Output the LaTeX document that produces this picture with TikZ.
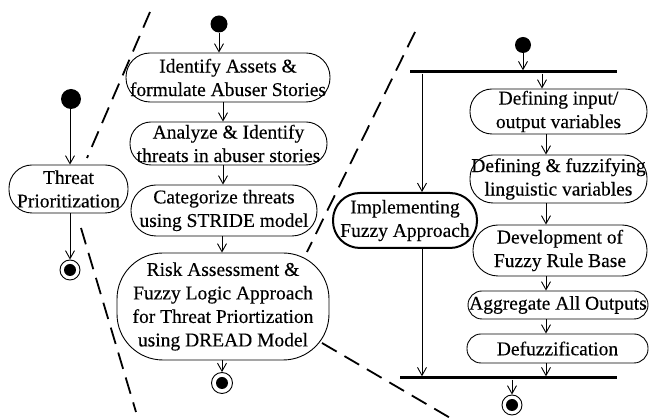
\documentclass[tikz,border=0pt]{standalone}
\usepackage{fontspec}
\setmainfont{Liberation Serif}
\newfontfamily\diaserif{Liberation Serif}[FakeBold=0.3]
\usetikzlibrary{arrows.meta}
\newcommand\diafont{\diaserif\fontsize{19.5}{23.5}\selectfont}
\begin{document}
\begin{tikzpicture}[x=1pt,y=-1pt,
  act/.style={draw, line width=0.9pt, align=center, inner sep=0pt, font=\diafont},
  startdot/.style={circle, fill=black, inner sep=0pt},
  enddot/.style={circle, draw, line width=0.9pt, fill=white, inner sep=0pt, minimum size=20pt,
     path picture={\fill[black] (path picture bounding box.center) circle (6pt);}},
  bar/.style={fill=black, inner sep=0pt, minimum height=3pt},
  flow/.style={line width=0.9pt, -{Straight Barb[length=8pt,width=9pt]}},
  zoomline/.style={line width=1.8pt, dash pattern=on 17pt off 9pt},
]
\useasboundingbox (0,0) rectangle (649,419);

% ---------- left column ----------
\node[startdot, minimum size=20pt] (dotL) at (71,99) {};
\node[act, minimum width=119pt, minimum height=48pt, rounded corners=23pt] (threat) at (68.5,189) {Threat\\Prioritization};
\node[enddot] (endL) at (70,270) {};
\coordinate (xL) at (70,0);
\draw[flow] (dotL.south -| xL) -- (threat.north -| xL);
\draw[flow] (threat.south -| xL) -- (endL.north -| xL);

% ---------- middle column ----------
\node[startdot, minimum size=17pt] (dotM) at (219,24) {};
\node[act, minimum width=204pt, minimum height=49pt, rounded corners=24pt] (m1) at (228,77.5) {Identify Assets \&\\formulate Abuser Stories};
\node[act, minimum width=197pt, minimum height=43pt, rounded corners=21pt] (m2) at (228.5,143.5) {Analyze \& Identify\\threats in abuser stories};
\node[act, minimum width=186pt, minimum height=51pt, rounded corners=25pt] (m3) at (224,210.5) {Categorize threats\\using STRIDE model};
\node[act, minimum width=212pt, minimum height=107pt, rounded corners=46pt] (m4) at (223,306.5) {Risk Assessment \&\\Fuzzy Logic Approach\\for Threat Priortization\\using DREAD Model};
\node[enddot, minimum size=21pt] (endM) at (222,383) {};
\coordinate (xM0) at (219,0);
\coordinate (xM1) at (223,0);
\coordinate (xM2) at (222,0);
\draw[flow] (dotM.south -| xM0) -- (m1.north -| xM0);
\draw[flow] (m1.south -| xM1) -- (m2.north -| xM1);
\draw[flow] (m2.south -| xM1) -- (m3.north -| xM1);
\draw[flow] (m3.south -| xM2) -- (m4.north -| xM2);
\draw[flow] (m4.south -| xM2) -- (endM.north -| xM2);

% ---------- right column ----------
\node[startdot, minimum size=16pt] (dotR) at (523,45) {};
\node[bar, minimum width=207pt] (barT) at (513.5,72) {};
\node[bar, minimum width=217pt] (barB) at (508.5,378) {};
\node[act, line width=2pt, minimum width=144pt, minimum height=55pt, rounded corners=27pt] (impl) at (405,220.5) {Implementing\\Fuzzy Approach};
\node[act, minimum width=177pt, minimum height=45pt, rounded corners=22pt] (r1) at (558.5,111.5) {Defining input/\\output variables};
\node[act, minimum width=177pt, minimum height=48pt, rounded corners=23pt] (r2) at (558.5,179) {Defining \& fuzzifying\\linguistic variables};
\node[act, minimum width=174pt, minimum height=51pt, rounded corners=25pt] (r3) at (560,250.5) {Development of\\Fuzzy Rule Base};
\node[act, minimum width=180pt, minimum height=28pt, rounded corners=14pt] (r4) at (558,305) {Aggregate All Outputs};
\node[act, minimum width=181pt, minimum height=29pt, rounded corners=14pt] (r5) at (557.5,348.5) {Defuzzification};
\node[enddot] (endR) at (512,405) {};
\coordinate (xR0) at (523,0);
\coordinate (xRa) at (422,0);
\coordinate (xRb) at (542,0);
\coordinate (xRc) at (546,0);
\coordinate (xRe) at (512,0);
\draw[flow] (dotR.south -| xR0) -- (barT.north -| xR0);
\draw[flow] (barT.south -| xRa) -- (impl.north -| xRa);
\draw[flow] (impl.south -| xRa) -- (barB.north -| xRa);
\draw[flow] (barT.south -| xRb) -- (r1.north -| xRb);
\draw[flow] (r1.south -| xRc) -- (r2.north -| xRc);
\draw[flow] (r2.south -| xRc) -- (r3.north -| xRc);
\draw[flow] (r3.south -| xRc) -- (r4.north -| xRc);
\draw[flow] (r4.south -| xRc) -- (r5.north -| xRc);
\draw[flow] (r5.south -| xRc) -- (barB.north -| xRc);
\draw[flow] (barB.south -| xRe) -- (endR.north -| xRe);

% ---------- zoom (expansion) dashed lines ----------
\coordinate (z1a) at (150,12);
\coordinate (z1b) at (87,158);
\coordinate (z2a) at (81,228);
\coordinate (z2b) at (136,412);
\coordinate (z3a) at (415,32);
\coordinate (z3b) at (307,252);
\coordinate (z4a) at (322,343);
\coordinate (z4b) at (452,419);
\draw[zoomline] (z1a) -- (z1b);
\draw[zoomline] (z2a) -- (z2b);
\draw[zoomline] (z3a) -- (z3b);
\draw[zoomline] (z4a) -- (z4b);
\end{tikzpicture}
\end{document}
